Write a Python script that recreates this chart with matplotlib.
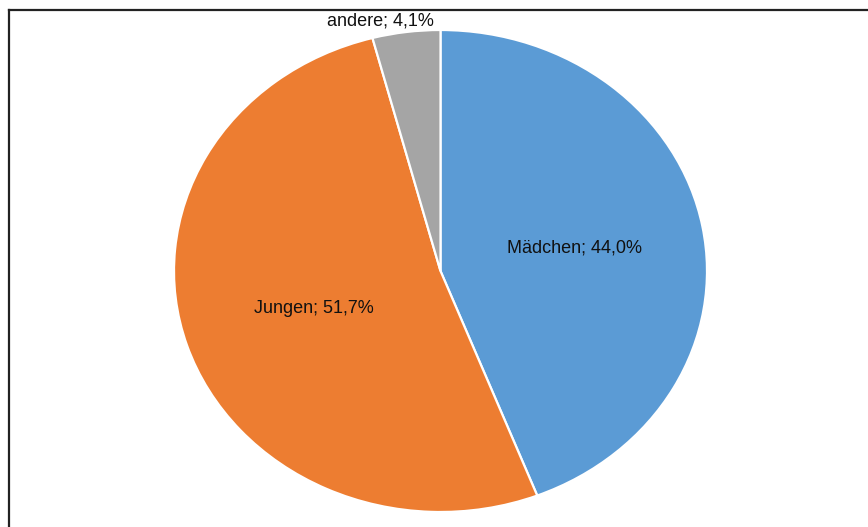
import numpy as np
import matplotlib
matplotlib.use("Agg")
import matplotlib.pyplot as plt
from matplotlib.lines import Line2D

# data
categories = ["Mädchen", "Jungen", "andere"]
shares = [44.0, 51.7, 4.1]
colors = ["#5B9BD5", "#ED7D31", "#A5A5A5"]
label_text = ["Mädchen; 44,0%", "Jungen; 51,7%", "andere; 4,1%"]

plt.rcParams["font.family"] = ["Liberation Sans", "DejaVu Sans"]

W, H = 868, 527
fig = plt.figure(figsize=(W / 100, H / 100), dpi=100)
ax = fig.add_axes([0, 0, 1, 1])

wedges, _ = ax.pie(shares, colors=colors, startangle=90, counterclock=False,
                   wedgeprops=dict(edgecolor="white", linewidth=1.6))

# pie in the reference is stretched sideways a bit
cx, cy = 440.5, 271.0
rx, ry = 266.5, 241.0
ax.set_aspect("auto")
ax.set_xlim(-cx / rx, (W - cx) / rx)
ax.set_ylim(-(H - cy) / ry, cy / ry)
ax.axis("off")

# label placement: radius from centre, plus a sideways shift for the outside one
lab_r = [0.51, 0.50, 1.045]
lab_dx = [0.0, 0.0, -0.09]
for w, txt, r, dx in zip(wedges, label_text, lab_r, lab_dx):
    mid = np.deg2rad((w.theta1 + w.theta2) / 2)
    x = r * np.cos(mid) + dx
    y = r * np.sin(mid)
    ax.text(x, y, txt, ha="center", va="center", fontsize=13, color="#111111")

# frame lines of the original screenshot (top and left only)
lx = 8.5 / W
ty = 1 - 9.5 / H
fig.add_artist(Line2D([lx, 1], [ty, ty], transform=fig.transFigure, color="#222222", lw=1.6))
fig.add_artist(Line2D([lx, lx], [0, ty], transform=fig.transFigure, color="#222222", lw=1.6))

fig.savefig("out.png", dpi=100, facecolor="white")
